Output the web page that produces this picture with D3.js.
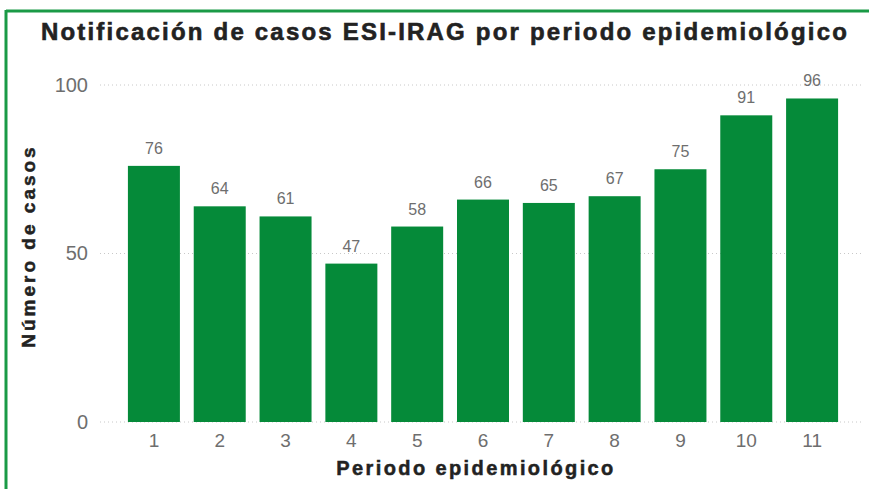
<!DOCTYPE html>
<html>
<head>
<meta charset="utf-8">
<script src="https://cdn.jsdelivr.net/npm/d3@7"></script>
<style>
    body { margin: 0; background: #fff; }
    svg { display: block; font-family: "Liberation Sans", Arial, sans-serif; }
</style>
</head>
<body>
<div id="chart"></div>
<script>
const periods = ["1", "2", "3", "4", "5", "6", "7", "8", "9", "10", "11"];
const cases = [76, 64, 61, 47, 58, 66, 65, 67, 75, 91, 96];
const yTicks = [0, 50, 100];

const W = 869, H = 489;
const barColor = "#058a39";

const svg = d3.select("#chart").append("svg")
    .attr("width", W)
    .attr("height", H);

// green frame (top and left only are visible)
svg.append("line")
    .attr("x1", 6).attr("x2", W).attr("y1", 11).attr("y2", 11)
    .attr("stroke", "#1a9a46").attr("stroke-width", 3);
svg.append("line")
    .attr("x1", 6).attr("x2", 6).attr("y1", 10).attr("y2", H)
    .attr("stroke", "#1a9a46").attr("stroke-width", 3);

// title
svg.append("text")
    .attr("x", 445)
    .attr("y", 40)
    .attr("text-anchor", "middle")
    .attr("font-size", 24)
    .attr("font-weight", "bold")
    .attr("letter-spacing", 2.2)
    .attr("fill", "#222")
    .attr("stroke", "#222")
    .attr("stroke-width", 0.6)
    .text("Notificación de casos ESI-IRAG por periodo epidemiológico");

// scales
const x = d3.scaleBand()
    .domain(periods)
    .range([121, 845])
    .paddingInner(0.21)
    .paddingOuter(0.105);

const y = d3.scaleLinear()
    .domain([0, 100])
    .range([422, 85]);

// gridlines
svg.append("g")
    .selectAll("line")
    .data(yTicks)
    .enter().append("line")
    .attr("x1", 100).attr("x2", 862)
    .attr("y1", d => y(d)).attr("y2", d => y(d))
    .attr("stroke", "#c8c8c8")
    .attr("stroke-width", 1)
    .attr("stroke-dasharray", "1,3");

// y axis labels
const yAxis = svg.append("g")
    .attr("transform", "translate(88,0)")
    .call(d3.axisLeft(y).tickValues(yTicks).tickSize(0).tickPadding(0));
yAxis.select(".domain").remove();
yAxis.selectAll("text")
    .attr("font-size", 20)
    .attr("fill", "#6e6e6e")
    .style("font-family", "Liberation Sans, Arial, sans-serif");

// bars
svg.selectAll(".bar")
    .data(cases)
    .enter().append("rect")
    .attr("class", "bar")
    .attr("x", (d, i) => x(periods[i]))
    .attr("width", x.bandwidth())
    .attr("y", d => y(d))
    .attr("height", d => y(0) - y(d))
    .attr("fill", barColor);

// value labels
svg.selectAll(".val")
    .data(cases)
    .enter().append("text")
    .attr("class", "val")
    .attr("x", (d, i) => x(periods[i]) + x.bandwidth() / 2)
    .attr("y", d => y(d) - 12)
    .attr("text-anchor", "middle")
    .attr("font-size", 16)
    .attr("fill", "#6e6e6e")
    .text(d => d);

// x axis labels
const xAxis = svg.append("g")
    .attr("transform", `translate(0,${y(0)})`)
    .call(d3.axisBottom(x).tickSize(0).tickPadding(12));
xAxis.select(".domain").remove();
xAxis.selectAll("text")
    .attr("font-size", 19)
    .attr("fill", "#6e6e6e")
    .style("font-family", "Liberation Sans, Arial, sans-serif");

// axis titles
svg.append("text")
    .attr("x", 476)
    .attr("y", 475)
    .attr("text-anchor", "middle")
    .attr("font-size", 20)
    .attr("font-weight", "bold")
    .attr("letter-spacing", 2.4)
    .attr("fill", "#222")
    .attr("stroke", "#222")
    .attr("stroke-width", 0.5)
    .text("Periodo epidemiológico");

svg.append("text")
    .attr("transform", "translate(35,246) rotate(-90)")
    .attr("text-anchor", "middle")
    .attr("font-size", 19)
    .attr("font-weight", "bold")
    .attr("letter-spacing", 3)
    .attr("fill", "#222")
    .attr("stroke", "#222")
    .attr("stroke-width", 0.5)
    .text("Número de casos");
</script>
</body>
</html>
